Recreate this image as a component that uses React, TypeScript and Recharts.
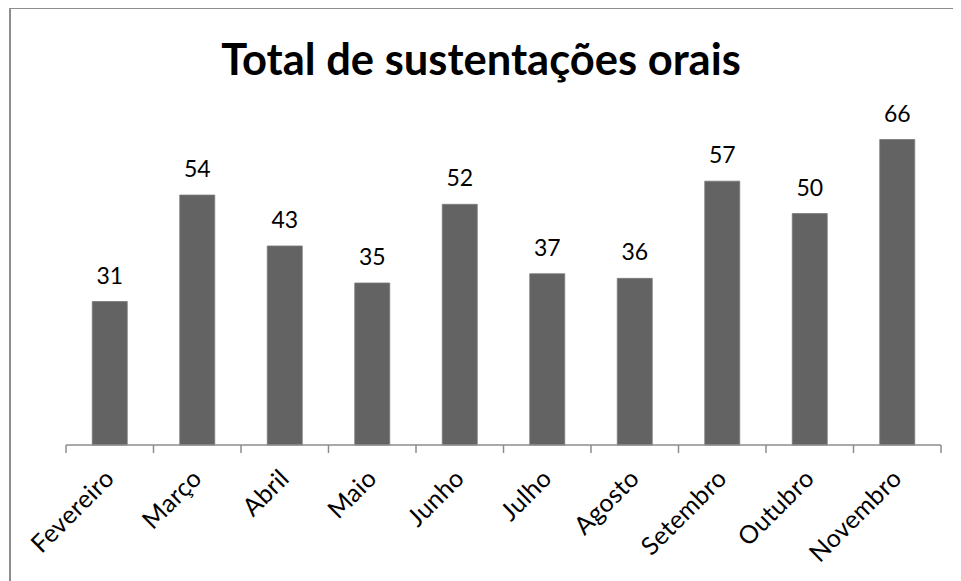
import React from "react";
import { BarChart, Bar, XAxis, YAxis, LabelList } from "recharts";

const months = ["Fevereiro", "Março", "Abril", "Maio", "Junho", "Julho", "Agosto", "Setembro", "Outubro", "Novembro"];
const totals = [31, 54, 43, 35, 52, 37, 36, 57, 50, 66];
const titleText = "Total de sustentações orais";

const data = months.map((m, i) => ({ month: m, total: totals[i] }));

const W = 953;
const H = 573;
const M = { top: 113, right: 20, bottom: 0, left: 58 };
const band = (W - M.left - M.right) / months.length;
const FONT = "Lato, 'Open Sans', sans-serif";

const Tick = (props: any) => {
  const { x, y, payload, index } = props;
  return (
    <g>
      <line x1={x - band / 2} y1={y} x2={x - band / 2} y2={y + 8} stroke="#8c8c8c" strokeWidth={1.5} />
      {index === months.length - 1 && (
        <line x1={x + band / 2} y1={y} x2={x + band / 2} y2={y + 8} stroke="#8c8c8c" strokeWidth={1.5} />
      )}
      <text
        transform={`translate(${x + 6},${y + 35}) rotate(-45)`}
        textAnchor="end"
        fontSize={25}
        fontFamily={FONT}
        letterSpacing={0.3}
        fill="#000"
      >
        {payload.value}
      </text>
    </g>
  );
};

export default function App() {
  return (
    <div style={{ position: "relative", width: W, height: H, overflow: "hidden", fontFamily: FONT, background: "#fff" }}>
      <div
        style={{
          position: "absolute",
          left: 1,
          top: -1,
          width: 1100,
          height: 1100,
          border: "2px solid #8e8e8e",
          boxSizing: "border-box",
        }}
      />
      <svg style={{ position: "absolute", left: 0, top: 0 }} width={W} height={120}>
        <text x={473} y={67} textAnchor="middle" fontSize={43.5} fontWeight="bold" fontFamily={FONT} fill="#000">
          {titleText}
        </text>
      </svg>
      <div style={{ position: "absolute", left: 0, top: 0 }}>
        <BarChart width={W} height={H} data={data} margin={M} barCategoryGap="30%">
          <YAxis hide domain={[0, 70]} />
          <XAxis
            dataKey="month"
            interval={0}
            tickLine={false}
            tickSize={0}
            tickMargin={0}
            height={136}
            axisLine={{ stroke: "#8c8c8c", strokeWidth: 1.5 }}
            tick={<Tick />}
          />
          <Bar dataKey="total" fill="#636363" stroke="#7a7a7a" strokeWidth={0.8} isAnimationActive={false}>
            <LabelList dataKey="total" position="top" offset={18} fontSize={23} fontFamily={FONT} fill="#000" />
          </Bar>
        </BarChart>
      </div>
    </div>
  );
}
